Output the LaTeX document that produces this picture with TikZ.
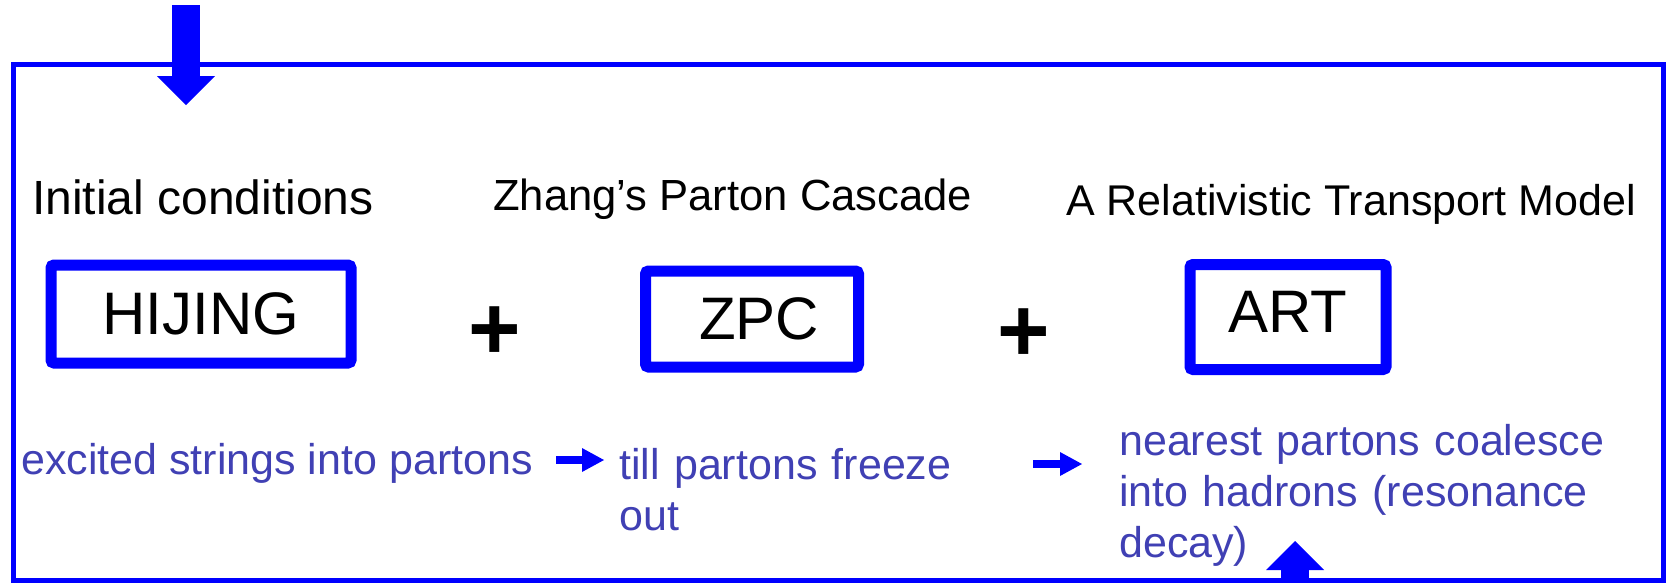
\documentclass[tikz,border=0pt]{standalone}
\usepackage{fontspec}
\setmainfont{Liberation Sans}
\usetikzlibrary{arrows.meta}
\definecolor{frameblue}{RGB}{0,0,255}
\definecolor{txtblue}{RGB}{64,64,180}
\begin{document}
\begin{tikzpicture}[x=1pt,y=-1pt,
  progbox/.style={draw=frameblue, line width=11pt, rounded corners=3pt, inner sep=0pt,
    font=\fontsize{60}{72}\selectfont, text=black},
  titletext/.style={inner sep=0pt, anchor=base west, text=black},
  desctext/.style={inner sep=0pt, anchor=base west, text=txtblue, align=left,
    font=\fontsize{43}{51}\selectfont},
  plussign/.style={inner sep=0pt, font=\fontsize{90}{100}\selectfont\bfseries, text=black},
  bigarrow/.style={draw=frameblue, line width=28pt,
    -{Triangle[length=29pt,width=58pt,line width=0pt]}},
  smallarrow/.style={draw=frameblue, line width=8pt,
    -{Triangle[length=22pt,width=24pt,line width=0pt]}}
]
\useasboundingbox (0,0) rectangle (1671,582);
\fill[white] (0,0) rectangle (1671,582);

% outer frame
\node[draw=frameblue, line width=5pt, minimum width=1650pt, minimum height=516pt,
  inner sep=0pt] (frame) at (838,322) {};

% titles
\node[titletext, font=\fontsize{48}{58}\selectfont] (t1) at (32,214) {Initial conditions};
\node[titletext, font=\fontsize{43.6}{52}\selectfont] (t2) at (493,210) {Zhang’s Parton Cascade};
\node[titletext, font=\fontsize{43}{52}\selectfont] (t3) at (1066,215) {A Relativistic Transport Model};

% program boxes
\node[progbox, minimum width=300pt, minimum height=98pt] (hijing) at (201,314) {HIJING};
\node[progbox, minimum width=213pt, minimum height=96pt] (zpc) at (752,319) {\hspace*{14pt}ZPC};
\node[progbox, minimum width=196pt, minimum height=105pt] (art) at (1288,317) {ART\rule[-10pt]{0pt}{10pt}};

% plus signs
\node[plussign] (p1) at (495,333) {+};
\node[plussign] (p2) at (1024,335) {+};

% descriptions
\node[desctext] (exc) at (21,474) {excited strings into partons};
\node[desctext, text width=400pt] (till) at (619,479) {till partons freeze\\out};
\node[desctext, text width=520pt] (near) at (1119,455) {nearest partons coalesce\\into hadrons (resonance\\decay)};

% small arrows
\coordinate (a1s) at (556,460);
\coordinate (a1e) at (604,460);
\coordinate (a2s) at (1033,464);
\coordinate (a2e) at (1082,464);
\draw[smallarrow] (a1s) -- (a1e);
\draw[smallarrow] (a2s) -- (a2e);

% big arrows
\coordinate (topstart) at (186,5);
\coordinate (toptip) at (186,105);
\draw[bigarrow] (topstart) -- (toptip);
\coordinate (botstart) at (1295,590);
\coordinate (bottip) at (1295,541);
\draw[bigarrow] (botstart) -- (bottip);
\end{tikzpicture}
\end{document}
